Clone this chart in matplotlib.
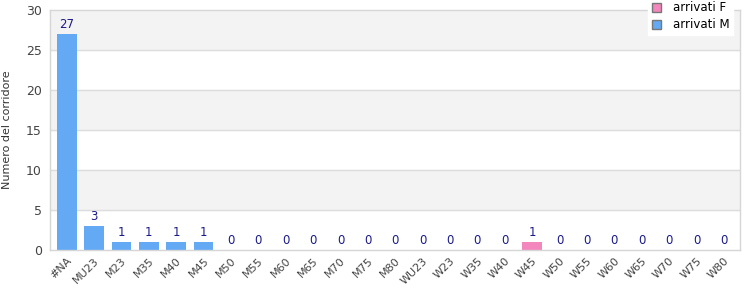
import matplotlib
matplotlib.use('Agg')
import matplotlib.pyplot as plt
import numpy as np

categories = ['#NA', 'MU23', 'M23', 'M35', 'M40', 'M45', 'M50', 'M55', 'M60', 'M65',
              'M70', 'M75', 'M80', 'WU23', 'W23', 'W35', 'W40', 'W45', 'W50', 'W55',
              'W60', 'W65', 'W70', 'W75', 'W80']
arrivati_m = [27, 3, 1, 1, 1, 1, 0, 0, 0, 0, 0, 0, 0, 0, 0, 0, 0, 0, 0, 0, 0, 0, 0, 0, 0]
arrivati_f = [0, 0, 0, 0, 0, 0, 0, 0, 0, 0, 0, 0, 0, 0, 0, 0, 0, 1, 0, 0, 0, 0, 0, 0, 0]

blue = '#63a9f4'
pink = '#f286bd'

fig = plt.figure(figsize=(7.5, 3), dpi=100)
ax = fig.add_axes([0.067, 0.167, 0.92, 0.8])

x = np.arange(len(categories))
m = np.array(arrivati_m)
f = np.array(arrivati_f)

# alternating bands
for i, lo in enumerate(range(0, 30, 5)):
    if i % 2 == 1:
        ax.axhspan(lo, lo + 5, color='#f3f3f3', zorder=0)
for yv in range(5, 30, 5):
    ax.axhline(yv, color='#dddddd', lw=1, zorder=1)

ax.bar(x, m, width=0.72, color=blue, zorder=2, label='arrivati M')
ax.bar(x, f, width=0.72, bottom=m, color=pink, zorder=2, label='arrivati F')

tot = m + f
for xi, t in zip(x, tot):
    ax.text(xi, t + 0.4, str(t), ha='center', va='bottom', fontsize=8.5,
            color='#1a1a8c', zorder=3)

ax.set_xlim(-0.6, len(categories) - 0.4)
ax.set_ylim(0, 30)
ax.set_yticks(range(0, 31, 5))
ax.set_xticks(x)
ax.set_xticklabels(categories, rotation=45, ha='right', rotation_mode='anchor',
                   fontsize=8, color='#444444')
ax.tick_params(axis='y', labelsize=9, colors='#444444', length=0, pad=6)
ax.tick_params(axis='x', length=0, pad=4)
ax.set_ylabel('Numero del corridore', fontsize=8, color='#333333', labelpad=10)

for s in ax.spines.values():
    s.set_color('#d6d6d6')
    s.set_linewidth(1)

handles, labels = ax.get_legend_handles_labels()
leg = ax.legend(handles[::-1], labels[::-1], loc='upper right',
                bbox_to_anchor=(0.998, 1.075), fontsize=8.5, frameon=True,
                fancybox=False, edgecolor='white', handlelength=0.8, handleheight=0.8,
                borderpad=0.3, labelspacing=0.35, handletextpad=1.0)
leg.get_frame().set_alpha(1.0)
for h in leg.legend_handles:
    h.set_edgecolor('#777777')
    h.set_linewidth(1)
leg.set_zorder(5)

fig.savefig('out.png', dpi=100)
